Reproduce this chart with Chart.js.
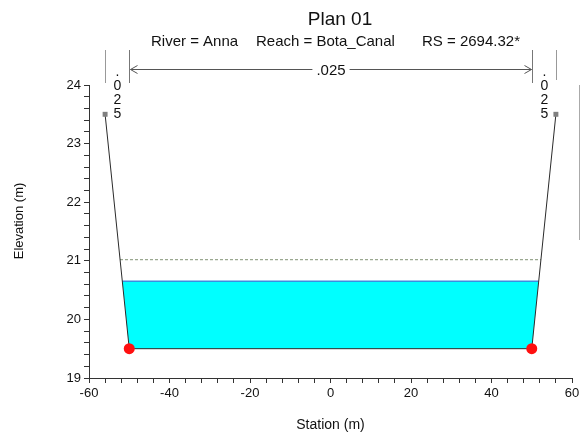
<!DOCTYPE html>
<html><head><meta charset="utf-8">
<script src="https://cdn.jsdelivr.net/npm/chart.js@4.4.0/dist/chart.umd.min.js"></script>
<style>html,body{margin:0;padding:0;background:#fff}#wrap{width:580px;height:440px;position:relative}</style>
</head><body><div id="wrap"><canvas id="c" width="580" height="440"></canvas></div>
<script>
// ---- data ----
const groundStation = [-56, -50, 50, 56];
const groundElev    = [23.5, 19.5, 19.5, 23.5];
const bankStation   = [-56, 56];
const bankElev      = [23.5, 23.5];
const dotStation    = [-50, 50];
const dotElev       = [19.5, 19.5];
const wsStation     = [-51.7, -50, 50, 51.7];   // water body outline (edges + bed)
const wsBedElev     = [20.65, 19.5, 19.5, 20.65];
const wsLevel       = 20.65;
const wsEdges       = [-51.7, 51.7];
const egLevel       = 21.02;
const egEdges       = [-52.3, 52.3];
const nBreaks       = [-56, -50, 50, 56];
const nValues       = ['.025', '.025', '.025'];
const titleText     = 'Plan 01';
const subTitleParts = ['River = Anna', 'Reach = Bota_Canal', 'RS = 2694.32*'];
const xRange = [-60, 60], xStep = 4, xLabelEvery = 20;
const yRange = [19, 24], yStep = 0.2, yLabelEvery = 1;

const FONT = "'Liberation Sans', Arial, sans-serif";
Chart.defaults.font.family = FONT;

const pts = (xs, ys) => xs.map((x, i) => ({x, y: ys[i]}));

const annot = {
  id: 'annot',
  afterDraw(chart) {
    const {ctx, chartArea: ca, scales: {x}} = chart;
    const top = ca.top;
    ctx.save();
    // titles
    ctx.fillStyle = '#111';
    ctx.textBaseline = 'alphabetic';
    ctx.font = '19px ' + FONT;
    ctx.textAlign = 'center';
    ctx.fillText(titleText, 340, 25);
    ctx.font = '15px ' + FONT;
    ctx.textAlign = 'left';
    const subX = [151, 256, 422];
    subTitleParts.forEach((t, i) => ctx.fillText(t, subX[i], 46));
    // y title
    ctx.save();
    ctx.translate(19, 221);
    ctx.rotate(-Math.PI / 2);
    ctx.textAlign = 'center';
    ctx.textBaseline = 'middle';
    ctx.font = '13px ' + FONT;
    ctx.fillText('Elevation (m)', 0, 0);
    ctx.restore();
    // n value break lines
    const px = nBreaks.map(v => Math.round(x.getPixelForValue(v)) + 0.5);
    ctx.lineWidth = 1;
    px.forEach((p, i) => {
      ctx.strokeStyle = (i === 1 || i === 2) ? '#777' : '#999';
      ctx.beginPath();
      ctx.moveTo(p, top - 35);
      ctx.lineTo(p, top - (i === 3 ? 5 : 2));
      ctx.stroke();
    });
    // arrow for main channel
    const ay = top - 16 + 0.5;
    ctx.strokeStyle = '#555';
    ctx.beginPath();
    ctx.moveTo(px[1] + 1, ay); ctx.lineTo(px[2] - 1, ay);
    ctx.moveTo(px[1] + 8, ay - 4); ctx.lineTo(px[1] + 1, ay); ctx.lineTo(px[1] + 8, ay + 4);
    ctx.moveTo(px[2] - 8, ay - 4); ctx.lineTo(px[2] - 1, ay); ctx.lineTo(px[2] - 8, ay + 4);
    ctx.stroke();
    ctx.font = '15px ' + FONT;
    ctx.textAlign = 'center';
    ctx.textBaseline = 'middle';
    const mid = (px[1] + px[2]) / 2;
    const w = ctx.measureText(nValues[1]).width + 8;
    ctx.fillStyle = '#fff';
    ctx.fillRect(mid - w / 2, ay - 7, w, 14);
    ctx.fillStyle = '#111';
    ctx.fillText(nValues[1], mid, ay + 1);
    // vertical n values for overbanks
    ctx.font = '14px ' + FONT;
    ctx.textBaseline = 'alphabetic';
    [[0, 1, 0], [2, 3, 2]].forEach(([a, b, k]) => {
      const cx = (px[a] + px[b]) / 2;
      nValues[k].split('').forEach((ch, j) => {
        ctx.fillText(ch, cx, top - 9 + j * 14);
      });
    });
    // cut-off legend frame at right
    ctx.strokeStyle = '#aaa';
    ctx.beginPath();
    ctx.moveTo(579.5, top); ctx.lineTo(579.5, top + 155);
    ctx.stroke();
    ctx.restore();
  }
};

new Chart(document.getElementById('c'), {
  type: 'scatter',
  data: {
    datasets: [
      { label: 'Ground', data: pts(groundStation, groundElev), showLine: true,
        borderColor: '#2a2a2a', borderWidth: 1, pointRadius: 0, order: 1 },
      { label: 'Bank Sta', data: pts(bankStation, bankElev), showLine: false,
        pointStyle: 'rect', pointRadius: 3.5, backgroundColor: '#808080', borderColor: '#808080', borderWidth: 0, order: 0 },
      { label: 'Dots', data: pts(dotStation, dotElev), showLine: false,
        pointRadius: 5.5, backgroundColor: '#ff1010', borderColor: '#ff1010', borderWidth: 0, order: 0 },
      { label: 'WS', data: pts(wsEdges, [wsLevel, wsLevel]), showLine: true,
        borderColor: '#3a8fe0', borderWidth: 1.5, pointRadius: 0, order: 2 },
      { label: 'EG', data: pts(egEdges, [egLevel, egLevel]), showLine: true,
        borderColor: '#9aa890', borderWidth: 1.2, borderDash: [3, 2], pointRadius: 0, order: 3 },
      { label: 'Water', data: pts(wsStation, wsBedElev), showLine: true,
        borderWidth: 0, borderColor: 'rgba(0,0,0,0)', pointRadius: 0,
        backgroundColor: '#00ffff', fill: {value: wsLevel}, order: 4 }
    ]
  },
  options: {
    responsive: false,
    animation: false,
    devicePixelRatio: 1,
    layout: { padding: { top: 85, right: 8, left: 12, bottom: 0 } },
    plugins: { legend: { display: false }, tooltip: { enabled: false }, title: { display: false } },
    scales: {
      x: {
        type: 'linear', min: xRange[0], max: xRange[1],
        ticks: { stepSize: xStep, autoSkip: false, maxRotation: 0, color: '#111',
          font: { size: 13 }, padding: 3,
          callback: v => (Math.abs(v % xLabelEvery) < 1e-6 ? String(v) : '') },
        grid: { drawOnChartArea: false, drawTicks: true, tickLength: 5, color: '#333' },
        border: { color: '#333', width: 1 },
        title: { display: true, text: 'Station (m)', color: '#111', font: { size: 14 }, padding: { top: 0, bottom: 6 } },
        afterFit: s => { s.height = 62; s.paddingLeft = 0; s.paddingRight = 0; }
      },
      y: {
        type: 'linear', min: yRange[0], max: yRange[1],
        ticks: { stepSize: yStep, autoSkip: false, color: '#111', font: { size: 13 }, padding: 3,
          callback: v => (Math.abs(v / yLabelEvery - Math.round(v / yLabelEvery)) < 1e-6 ? String(Math.round(v)) : '') },
        grid: { drawOnChartArea: false, drawTicks: true, tickLength: 5, color: '#333' },
        border: { color: '#333', width: 1 },
        title: { display: false },
        afterFit: s => { s.width = 77; s.paddingTop = 0; s.paddingBottom = 0; }
      }
    }
  },
  plugins: [annot]
});
</script>
</body></html>
